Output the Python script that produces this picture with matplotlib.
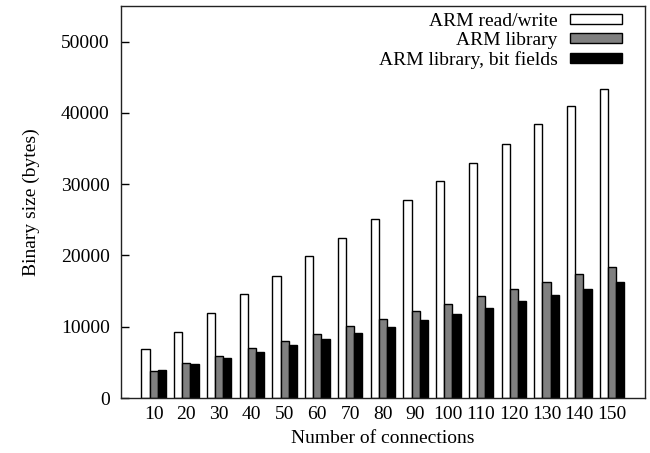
import matplotlib.pyplot as plt
import numpy as np

connections = [10, 20, 30, 40, 50, 60, 70, 80, 90, 100, 110, 120, 130, 140, 150]
arm_rw = [6840, 9270, 11900, 14560, 17180, 19900, 22500, 25100, 27760, 30430,
          33000, 35630, 38390, 41010, 43300]
arm_lib = [3840, 4870, 5900, 6980, 8000, 9030, 10070, 11100, 12220, 13200,
           14280, 15270, 16340, 17370, 18350]
arm_lib_bits = [3930, 4780, 5660, 6500, 7440, 8290, 9180, 10020, 10960, 11800,
                12640, 13620, 14470, 15310, 16250]

plt.rcParams['font.family'] = ['Liberation Serif', 'DejaVu Serif']
plt.rcParams['font.size'] = 14

fig = plt.figure(figsize=(6.5, 4.53), dpi=100)
ax = fig.add_axes([0.186, 0.1214, 0.806, 0.8654])

x = np.arange(len(connections))
w = 0.25
ax.bar(x - w, arm_rw, w, color='white', edgecolor='black', linewidth=1.0, label='ARM read/write')
ax.bar(x, arm_lib, w, color='#808080', edgecolor='black', linewidth=1.0, label='ARM library')
ax.bar(x + w, arm_lib_bits, w, color='black', edgecolor='black', linewidth=1.0,
       label='ARM library, bit fields')

ax.set_xlim(-1, 15)
ax.set_ylim(0, 55000)
ax.set_yticks(range(0, 50001, 10000))
ax.set_xticks(x)
ax.set_xticklabels([str(c) for c in connections])
ax.tick_params(axis='y', direction='in', length=6, width=1, pad=8)
ax.tick_params(axis='x', length=0, pad=6)
for s in ax.spines.values():
    s.set_linewidth(1.0)
    s.set_color('#222222')

ax.set_xlabel('Number of connections', labelpad=5)
ax.set_ylabel('Binary size (bytes)', labelpad=15)

# gnuplot-style key: text on the left, wide flat boxes on the right
ax.legend(loc='upper right', frameon=False, markerfirst=False,
          handlelength=2.68, handleheight=0.41, labelspacing=0.1,
          handletextpad=0.62, borderpad=0, borderaxespad=0,
          bbox_to_anchor=(622 / 650, 1 - 13 / 453), bbox_transform=fig.transFigure)

fig.savefig('out.png', dpi=100)
